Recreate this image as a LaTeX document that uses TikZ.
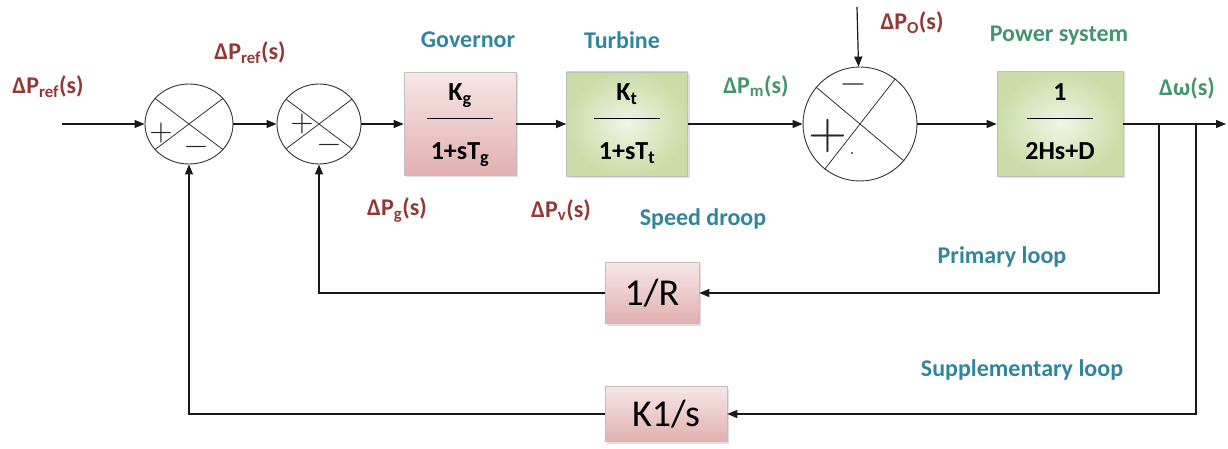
\documentclass[tikz,border=0pt]{standalone}
\usepackage{fontspec}
\setmainfont{Carlito}
\newfontfamily\signfont{lmroman10-regular.otf}
\usetikzlibrary{arrows.meta,shadows,shapes.geometric}
\definecolor{labred}{HTML}{953735}
\definecolor{labblue}{HTML}{31859C}
\definecolor{labgreen}{HTML}{43956F}
\definecolor{pinktop}{HTML}{F7E6E6}
\definecolor{pinkbot}{HTML}{E2B0B0}
\definecolor{greenin}{HTML}{F0F5E4}
\definecolor{greenout}{HTML}{CBDCA8}
\newcommand{\blockfrac}[2]{\begin{tabular}{@{}c@{}}#1\\[-11pt]\rule{66pt}{1.4pt}\\[10pt]#2\end{tabular}}
\begin{document}
\begin{tikzpicture}
[x=1pt,y=-1pt,>={Triangle[length=10pt,width=8pt]},
flow/.style={draw=black!90,line width=1.2pt},
sumnode/.style={ellipse,draw=black!80,line width=0.9pt,fill=white,inner sep=0pt},
gainbox/.style={rectangle,draw=black!25,line width=0.6pt,inner sep=0pt,drop shadow={opacity=0.25,shadow xshift=2pt,shadow yshift=-2pt},font=\fontsize{26}{30}\selectfont\bfseries},
pinkbox/.style={gainbox,top color=pinktop,bottom color=pinkbot},
greenbox/.style={gainbox,inner color=greenin,outer color=greenout},
fbtext/.style={font=\fontsize{38}{42}\selectfont},
sign/.style={inner sep=0pt,text=black!85,font=\signfont\fontsize{30}{30}\selectfont},
lab/.style={inner sep=0pt,font=\fontsize{24}{28}\selectfont\bfseries}]
\useasboundingbox (0,0) rectangle (1228,449);
\node[sumnode,minimum width=88pt,minimum height=80pt] at (189,124) (sum1) {};
\node[sumnode,minimum width=84pt,minimum height=80pt] at (319,124) (sum2) {};
\node[sumnode,minimum size=114pt] at (860,124) (sum3) {};
\node[pinkbox,minimum width=112pt,minimum height=103pt] at (460,124) (gov) {\blockfrac{K\textsubscript{g}}{1+sT\textsubscript{g}}};
\node[greenbox,minimum width=121pt,minimum height=104pt] at (627,124) (turb) {\blockfrac{K\textsubscript{t}}{1+sT\textsubscript{t}}};
\node[greenbox,minimum width=126pt,minimum height=105pt] at (1060,124) (psys) {\blockfrac{1}{2Hs+D}};
\node[pinkbox,fbtext,minimum width=94pt,minimum height=61pt] at (652,293) (droop) {1/R};
\node[pinkbox,fbtext,minimum width=122pt,minimum height=55pt] at (666,414) (integ) {K1/s};
\coordinate (inp) at (62,124);
\coordinate (load) at (857,7);
\coordinate (out) at (1226,124);
\coordinate (tap1) at (1159,124);
\coordinate (tap2) at (1196,124);
\draw[black!80,line width=0.8pt] (sum1.143) -- (sum1.-37) (sum1.37) -- (sum1.-143);
\draw[black!80,line width=0.8pt] (sum2.143) -- (sum2.-37) (sum2.37) -- (sum2.-143);
\draw[black!80,line width=0.8pt] (sum3.140) -- (sum3.-40) (sum3.52) -- (sum3.-128);
\node[sign] at (161,133) (s1p) {+};
\node[sign] at (196,150) (s1m) {−};
\node[sign] at (302,124) (s2p) {+};
\node[sign] at (329,148) (s2m) {−};
\node[sign,font=\signfont\fontsize{32}{32}\selectfont] at (853,88) (s3m) {−};
\node[sign,font=\signfont\fontsize{50}{50}\selectfont] at (828,136) (s3p) {+};
\node[sign,font=\signfont\fontsize{18}{18}\selectfont] at (852,154) (s3d) {.};
\draw[flow,->] (inp) -- (sum1);
\draw[flow,->] (sum1) -- (sum2);
\draw[flow,->] (sum2) -- (gov);
\draw[flow,->] (gov) -- (turb);
\draw[flow,->] (turb) -- (sum3);
\draw[flow,->] (load) -- (sum3);
\draw[flow,->] (sum3) -- (psys);
\draw[flow,->] (psys) -- (out);
\draw[flow,->] (tap1) |- (droop);
\draw[flow,->] (droop) -| (sum2);
\draw[flow,->] (tap2) |- (integ);
\draw[flow,->] (integ) -| (sum1);
\node[lab,text=labred] at (48,87) (pref) {ΔP\textsubscript{ref}(s)};
\node[lab,text=labred] at (250,53) (pref2) {ΔP\textsubscript{ref}(s)};
\node[lab,text=labblue] at (468,40) (govlab) {Governor};
\node[lab,text=labblue] at (622,40) (turblab) {Turbine};
\node[lab,text=labgreen] at (756,86) (pm) {ΔP\textsubscript{m}(s)};
\node[lab,text=labred] at (912,23) (pload) {ΔP\textsubscript{O}(s)};
\node[lab,text=labgreen] at (1059,36) (psyslab) {Power system};
\node[lab,text=labgreen] at (1187,88) (dw) {Δω(s)};
\node[lab,text=labred] at (397,210) (pg) {ΔP\textsubscript{g}(s)};
\node[lab,text=labred] at (561,210) (pv) {ΔP\textsubscript{v}(s)};
\node[lab,text=labblue] at (703,219) (droolab) {Speed droop};
\node[lab,text=labblue] at (1002,257) (primlab) {Primary loop};
\node[lab,text=labblue] at (1022,370) (supplab) {Supplementary loop};
\end{tikzpicture}
\end{document}
